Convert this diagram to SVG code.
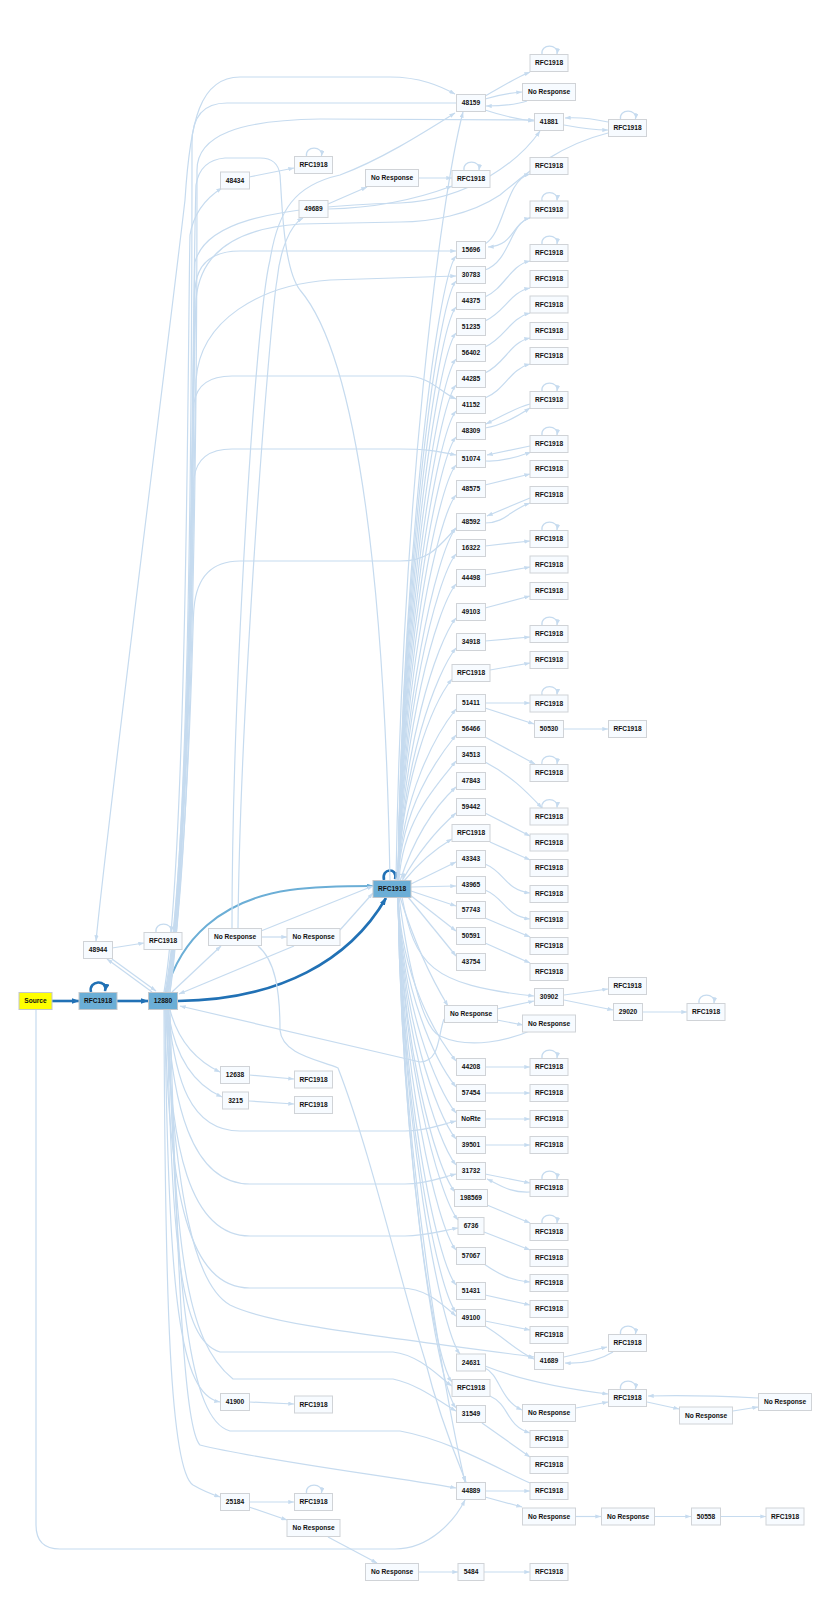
<svg xmlns="http://www.w3.org/2000/svg" width="830" height="1600" viewBox="0 0 830 1600">
<defs>
<marker id="a" viewBox="0 0 10 7" refX="9.5" refY="3.5" markerWidth="6" markerHeight="4.2" markerUnits="userSpaceOnUse" orient="auto"><path d="M0,0L10,3.5L0,7z" fill="#c6dbef"/></marker>
<marker id="as" viewBox="0 0 10 7" refX="9.5" refY="3.5" markerWidth="6" markerHeight="4.2" markerUnits="userSpaceOnUse" orient="auto-start-reverse"><path d="M0,0L10,3.5L0,7z" fill="#c6dbef"/></marker>
<marker id="d" viewBox="0 0 10 7" refX="9" refY="3.5" markerWidth="8" markerHeight="5.6" markerUnits="userSpaceOnUse" orient="auto"><path d="M0,0L10,3.5L0,7z" fill="#2171b5"/></marker>
<marker id="m" viewBox="0 0 10 7" refX="9" refY="3.5" markerWidth="7" markerHeight="4.9" markerUnits="userSpaceOnUse" orient="auto"><path d="M0,0L10,3.5L0,7z" fill="#6baed6"/></marker>
<style>
.e{fill:none;stroke:#c6dbef;stroke-width:1.2}
.a{marker-end:url(#a)}
.dk{fill:none;stroke:#2171b5;stroke-width:2.6;marker-end:url(#d)}
.md{fill:none;stroke:#6baed6;stroke-width:2;marker-end:url(#m)}
.n rect{fill:#f7fbff;stroke:#d0d3d7;stroke-width:1}
.b rect{fill:#6baed6;stroke:#c3c7cc;stroke-width:1}
.y rect{fill:#ffff00;stroke:#c3c7cc;stroke-width:1}
text{font-family:"Liberation Sans",Arial,sans-serif;font-size:6.6px;font-weight:bold;fill:#111;text-anchor:middle}
</style>
</defs>
<rect width="830" height="1600" fill="#ffffff"/>
<g id="edges">
<!-- main blue edges -->
<path class="dk" d="M52,1001 L79,1001"/>
<path class="dk" d="M117,1001 L148,1001"/>
<path class="dk" d="M178,1001 C280,1000 350,960 386,898"/>
<path class="md" d="M166,992 C180,940 220,900 290,890 C320,886 350,886 373,886"/>
<path class="dk" d="M91,992 C88,980 108,979 105,991"/>
<path class="dk" d="M384,880 C381,868 398,867 395,879"/>
<!-- upper bundle from 12880 -->
<path class="e a" style="marker-start:url(#as)" d="M96,941 C110,800 170,330 185,200 C190,120 200,77 240,77 L390,77 C420,77 440,86 455,94"/>
<path class="e" d="M166,992 C192,850 192,303 192,143 Q192,103 227,103 L457,103"/>
<path class="e a" d="M168,992 C197,850 197,280 197,170 C197,135 240,120 320,119 L534,120"/>
<path class="e" d="M390,880 C385,600 360,360 300,290 C283,268 282,200 280,175 Q278,158 260,158 L225,158 Q200,160 196,185 C192,300 192,850 170,992"/>
<path class="e a" d="M164,992 C188,850 188,300 190,235 Q195,205 222,188"/>
<path class="e a" d="M165,992 C192,850 194,330 195,290 Q197,251 240,251 L456,251"/>
<path class="e a" d="M166,992 C192,850 194,420 196,380 C200,320 260,285 330,280 L456,276"/>
<path class="e" d="M608,133 C560,145 530,170 500,195 C470,215 430,222 400,222 L300,224 C240,228 200,250 196,300 C192,400 192,850 167,992"/>
<path class="e a" d="M167,992 C193,850 193,300 195,262 C205,225 260,207 400,203 C470,200 520,160 540,131"/>
<path class="e a" d="M168,992 C193,800 193,420 194,403 Q198,376 232,376 L405,376 C430,376 440,392 456,399"/>
<path class="e a" d="M169,992 C193,800 193,480 194,478 Q198,449 232,449 L400,449 C430,449 440,452 456,455"/>
<path class="e a" d="M170,992 C192,800 192,620 194,608 Q198,561 240,561 L400,561 C430,561 440,545 456,528"/>
<!-- No Response (235,937) and neighbours -->
<path class="e a" d="M232,928 C232,700 255,320 270,260 C278,210 295,185 340,175 C380,160 420,135 455,113"/>
<path class="e a" d="M238,928 C240,700 270,320 277,280 C280,250 290,225 303,218"/>
<path class="e a" d="M261,937 L287,937"/>
<path class="e a" d="M261,931 L373,886"/>
<path class="e a" d="M340,930 L373,893"/>
<path class="e a" d="M258,946 C275,960 280,990 280,1030 C282,1055 320,1060 338,1068 C370,1150 400,1280 425,1360 C440,1420 458,1462 466,1482"/>
<path class="e a" d="M172,992 L221,946"/>
<path class="e a" d="M294,946 L179,994"/>
<path class="e a" d="M152,992 L107,959"/>
<path class="e a" d="M112,959 L156,991"/>
<path class="e a" d="M112,948 L144,943"/>
<!-- lower bundle from 12880 -->
<path class="e a" d="M170,1010 C178,1040 195,1060 220,1072"/>
<path class="e a" d="M168,1010 C175,1060 195,1085 222,1097"/>
<path class="e a" d="M168,1010 C175,1080 190,1131 240,1131 L405,1131 C425,1131 440,1125 456,1121"/>
<path class="e a" d="M167,1010 C172,1100 190,1184 250,1184 L405,1184 C425,1184 440,1178 456,1174"/>
<path class="e a" d="M166,1010 C170,1150 190,1236 250,1236 L405,1236 C425,1236 445,1230 458,1228"/>
<path class="e a" d="M165,1010 C168,1200 190,1288 250,1288 L400,1288 C425,1288 440,1302 456,1316"/>
<path class="e a" d="M444,1019 C438,1035 440,1062 420,1062 L180,1006"/>
<path class="e a" d="M166,1010 C175,1200 195,1285 230,1305 C270,1325 380,1336 534,1357"/>
<path class="e a" d="M167,1010 C172,1250 180,1340 220,1352 L393,1352 C420,1355 440,1378 452,1386"/>
<path class="e a" d="M168,1010 C175,1250 185,1340 233,1379 L393,1379 C420,1385 440,1402 456,1411"/>
<path class="e" d="M169,1010 C175,1300 190,1420 230,1431 L400,1431 C450,1440 500,1470 530,1483"/>
<path class="e a" d="M170,1010 C178,1300 185,1430 200,1445 C260,1460 380,1475 456,1488"/>
<path class="e a" d="M165,1010 C168,1300 180,1395 220,1402"/>
<path class="e a" d="M164,1010 C165,1300 170,1470 193,1485 Q205,1492 220,1497"/>
<path class="e a" d="M36,1010 L36,1525 Q36,1549 60,1549 L395,1549 C430,1549 455,1520 465,1500"/>
<!-- main RFC1918 fan upward -->
<path class="e a" d="M396,880 C402,500 440,200 463,112"/>
<path class="e a" d="M398,880 C402,568 436,281 456,256"/>
<path class="e a" d="M398,880 C402,580 436,306 456,281"/>
<path class="e a" d="M398,880 C402,593 436,332 456,307"/>
<path class="e a" d="M398,880 C402,606 436,358 456,333"/>
<path class="e a" d="M398,880 C402,619 436,384 456,359"/>
<path class="e a" d="M398,880 C402,632 436,410 456,385"/>
<path class="e a" d="M398,880 C402,645 436,436 456,411"/>
<path class="e a" d="M398,880 C402,658 436,462 456,437"/>
<path class="e a" d="M398,880 C402,672 436,490 456,465"/>
<path class="e a" d="M398,880 C402,687 436,520 456,495"/>
<path class="e a" d="M398,880 C402,704 436,553 456,528"/>
<path class="e a" d="M398,880 C402,717 436,579 456,554"/>
<path class="e a" d="M398,880 C402,732 436,609 456,584"/>
<path class="e a" d="M398,880 C402,749 436,643 456,618"/>
<path class="e a" d="M398,880 C402,764 436,673 456,648"/>
<path class="e a" d="M398,880 C402,779 432,704 452,679"/>
<path class="e a" d="M398,880 C402,794 436,734 456,709"/>
<path class="e a" d="M398,880 C402,807 436,760 456,735"/>
<path class="e a" d="M399,880 C403,820 436,786 456,761"/>
<path class="e a" d="M400,881 Q420,820 456,787"/>
<path class="e a" d="M402,881 Q425,840 456,813"/>
<path class="e a" d="M404,881 Q425,855 452,839"/>
<path class="e a" d="M411,884 L456,862"/>
<path class="e a" d="M411,887 L456,886"/>
<path class="e a" d="M411,891 L456,906"/>
<path class="e a" d="M410,895 L456,931"/>
<path class="e a" d="M408,897 L456,956"/>
<!-- main RFC1918 fan downward -->
<path class="e a" d="M400,897 Q420,960 448,1006"/>
<path class="e a" d="M402,897 C415,965 430,985 534,996"/>
<path class="e" d="M399,897 C410,980 425,1030 440,1036 C470,1050 510,1040 532,1030"/>
<path class="e a" d="M398,897 C402,979 436,1036 456,1061"/>
<path class="e a" d="M398,897 C402,992 436,1062 456,1087"/>
<path class="e a" d="M398,897 C402,1005 436,1088 456,1113"/>
<path class="e a" d="M398,897 C402,1018 436,1114 456,1139"/>
<path class="e a" d="M398,897 C402,1031 436,1140 456,1165"/>
<path class="e a" d="M398,897 C402,1044 435,1167 455,1192"/>
<path class="e a" d="M398,897 C402,1058 438,1195 458,1220"/>
<path class="e a" d="M398,897 C402,1073 436,1225 456,1250"/>
<path class="e a" d="M398,897 C402,1091 436,1260 456,1285"/>
<path class="e a" d="M398,897 C402,1104 436,1287 456,1312"/>
<path class="e a" d="M398,897 C402,1125 440,1329 460,1354"/>
<path class="e a" d="M398,897 C402,1139 432,1357 452,1382"/>
<path class="e a" d="M398,897 C402,1152 436,1383 456,1408"/>
<path class="e a" d="M398,897 C402,1189 455,1440 465,1482"/>
<!-- top area -->
<path class="e a" d="M485,96 C500,88 515,78 530,72"/>
<path class="e a" d="M485,99 C498,95 510,93 522,92"/>
<path class="e a" d="M527,101 C515,105 500,106 486,106"/>
<path class="e a" d="M485,110 C500,115 515,119 534,121"/>
<path class="e a" d="M564,125 C580,128 595,130 608,130"/>
<path class="e a" d="M608,122 C590,118 580,117 565,118"/>
<path class="e a" d="M328,204 L367,187"/>
<path class="e a" d="M328,209 C380,208 420,198 452,186"/>
<path class="e a" d="M418,178 L452,178"/>
<path class="e a" d="M249,177 L294,168"/>
<!-- column G to H -->
<path class="e a" d="M485,244 C505,232 505,180 530,174"/>
<path class="e a" d="M531,217 C510,225 515,245 488,247"/>
<path class="e a" d="M485,270 C510,262 510,222 530,218"/>
<path class="e a" d="M485,297 C505,288 510,265 530,261"/>
<path class="e a" d="M485,321 C505,312 510,292 530,288"/>
<path class="e a" d="M485,347 C505,338 510,318 530,313"/>
<path class="e a" d="M485,373 C505,364 510,342 530,338"/>
<path class="e a" d="M485,398 C505,390 510,369 530,364"/>
<path class="e a" d="M485,428 C500,426 515,418 530,408"/>
<path class="e a" d="M530,404 C515,408 500,417 486,424"/>
<path class="e a" d="M485,461 C500,462 515,458 531,452"/>
<path class="e a" d="M530,446 L487,455"/>
<path class="e a" d="M485,485 L530,474"/>
<path class="e a" d="M485,523 C505,523 510,510 530,503"/>
<path class="e a" d="M530,498 L487,516"/>
<path class="e a" d="M485,546 L530,541"/>
<path class="e a" d="M485,575 L530,567"/>
<path class="e a" d="M485,608 L530,596"/>
<path class="e a" d="M485,641 L530,637"/>
<path class="e a" d="M490,670 L530,663"/>
<path class="e a" d="M485,703 L530,703"/>
<path class="e a" d="M485,708 L534,724"/>
<path class="e a" d="M564,729 L608,729"/>
<path class="e a" d="M485,737 L535,764"/>
<path class="e a" d="M485,762 C510,775 525,790 542,808"/>
<path class="e a" d="M485,813 L530,836"/>
<path class="e a" d="M490,842 L530,860"/>
<path class="e a" d="M485,864 C505,872 505,890 530,893"/>
<path class="e a" d="M485,890 C505,898 505,916 530,919"/>
<path class="e a" d="M485,918 L530,937"/>
<path class="e a" d="M485,943 L530,963"/>
<path class="e a" d="M564,995 L608,989"/>
<path class="e a" d="M564,1000 L613,1010"/>
<path class="e a" d="M642,1012 L687,1012"/>
<path class="e a" d="M497,1009 L534,1001"/>
<path class="e a" d="M497,1020 L523,1025"/>
<path class="e a" d="M485,1067 L530,1067"/>
<path class="e a" d="M485,1093 L530,1093"/>
<path class="e a" d="M485,1119 L530,1119"/>
<path class="e a" d="M485,1145 L530,1145"/>
<path class="e a" d="M485,1174 L530,1183"/>
<path class="e a" d="M530,1192 C510,1193 500,1185 487,1179"/>
<path class="e a" d="M487,1205 L530,1223"/>
<path class="e a" d="M484,1232 L530,1250"/>
<path class="e a" d="M484,1264 C500,1275 510,1280 530,1282"/>
<path class="e a" d="M485,1295 L530,1305"/>
<path class="e a" d="M485,1321 L530,1330"/>
<path class="e a" d="M485,1326 C505,1338 515,1350 534,1359"/>
<path class="e a" d="M564,1357 L607,1347"/>
<path class="e a" d="M613,1352 C600,1360 585,1364 565,1363"/>
<path class="e a" d="M485,1366 C520,1380 560,1388 608,1394"/>
<path class="e a" d="M485,1368 C500,1375 500,1400 522,1410"/>
<path class="e a" d="M576,1408 L608,1402"/>
<path class="e a" d="M647,1402 L679,1409"/>
<path class="e a" d="M733,1411 L758,1407"/>
<path class="e a" d="M758,1398 C720,1396 680,1395 648,1396"/>
<path class="e a" d="M490,1396 C510,1405 505,1425 530,1433"/>
<path class="e a" d="M482,1423 L530,1457"/>
<path class="e a" d="M485,1491 L530,1491"/>
<path class="e a" d="M485,1497 L522,1507"/>
<path class="e a" d="M576,1516.5 L601,1516.5"/>
<path class="e a" d="M654,1516.5 L691,1516.5"/>
<path class="e a" d="M721,1516.5 L766,1516.5"/>
<path class="e a" d="M418,1572 L458,1572"/>
<path class="e a" d="M484,1572 L530,1572"/>
<path class="e a" d="M249,1502 L294,1502"/>
<path class="e a" d="M249,1507 L287,1520"/>
<path class="e a" d="M328,1537 L377,1563"/>
<path class="e a" d="M249,1402 L294,1404"/>
<path class="e a" d="M249,1075 L294,1079"/>
<path class="e a" d="M249,1101 L294,1104"/>
<!-- self loops -->
<path class="e a" d="M542,54.5 C540,43.5 559,43.5 557,54"/>
<path class="e a" d="M620.5,119.5 C618.5,108.5 637.5,108.5 635.5,119"/>
<path class="e a" d="M306.5,156.5 C304.5,145.5 323.5,145.5 321.5,156"/>
<path class="e a" d="M464,170.5 C462,159.5 481,159.5 479,170"/>
<path class="e a" d="M542,201 C540,190 559,190 557,200.5"/>
<path class="e a" d="M542,244.5 C540,233.5 559,233.5 557,244"/>
<path class="e a" d="M542,391.5 C540,380.5 559,380.5 557,391"/>
<path class="e a" d="M542,435.5 C540,424.5 559,424.5 557,435"/>
<path class="e a" d="M542,530.5 C540,519.5 559,519.5 557,530"/>
<path class="e a" d="M542,625.5 C540,614.5 559,614.5 557,625"/>
<path class="e a" d="M542,695 C540,684 559,684 557,694.5"/>
<path class="e a" d="M542,764.5 C540,753.5 559,753.5 557,764"/>
<path class="e a" d="M542,808 C540,797 559,797 557,807.5"/>
<path class="e a" d="M156,932.5 C154,921.5 173,921.5 171,932"/>
<path class="e a" d="M699,1003.5 C697,992.5 716,992.5 714,1003"/>
<path class="e a" d="M542,1058.5 C540,1047.5 559,1047.5 557,1058"/>
<path class="e a" d="M542,1179.5 C540,1168.5 559,1168.5 557,1179"/>
<path class="e a" d="M542,1223.5 C540,1212.5 559,1212.5 557,1223"/>
<path class="e a" d="M620.5,1334.5 C618.5,1323.5 637.5,1323.5 635.5,1334"/>
<path class="e a" d="M620.5,1389.5 C618.5,1378.5 637.5,1378.5 635.5,1389"/>
<path class="e a" d="M306.5,1493.5 C304.5,1482.5 323.5,1482.5 321.5,1493"/>
<path class="e a" d="M397,880.5 C398,873 404,872 403,879"/>
</g>
<g id="nodes">
<g id="n-source" class="y"><rect x="19" y="992.5" width="33" height="17"/><text x="35.5" y="1003.4">Source</text></g>
<g id="n-rfc-98" class="b"><rect x="79" y="992.5" width="38" height="17"/><text x="98" y="1003.4">RFC1918</text></g>
<g id="n-12880" class="b"><rect x="148.5" y="992.5" width="29" height="17"/><text x="163" y="1003.4">12880</text></g>
<g id="n-48944" class="n"><rect x="83.5" y="941.5" width="29" height="17"/><text x="98" y="952.4">48944</text></g>
<g id="n-rfc-163-941" class="n"><rect x="144" y="932.5" width="38" height="17"/><text x="163" y="943.4">RFC1918</text></g>
<g id="n-48434" class="n"><rect x="220.5" y="172" width="29" height="17"/><text x="235" y="182.9">48434</text></g>
<g id="n-nr-235-937" class="n"><rect x="208.5" y="928.5" width="53" height="17"/><text x="235" y="939.4">No Response</text></g>
<g id="n-12638" class="n"><rect x="220.5" y="1066.5" width="29" height="17"/><text x="235" y="1077.4">12638</text></g>
<g id="n-3215" class="n"><rect x="222.5" y="1092" width="26" height="17"/><text x="235.5" y="1102.9">3215</text></g>
<g id="n-41900" class="n"><rect x="220.5" y="1393.5" width="29" height="17"/><text x="235" y="1404.4">41900</text></g>
<g id="n-25184" class="n"><rect x="220.5" y="1493.5" width="29" height="17"/><text x="235" y="1504.4">25184</text></g>
<g id="n-rfc-313-165" class="n"><rect x="294.5" y="156.5" width="38" height="17"/><text x="313.5" y="167.4">RFC1918</text></g>
<g id="n-49689" class="n"><rect x="299" y="200.5" width="29" height="17"/><text x="313.5" y="211.4">49689</text></g>
<g id="n-nr-313-937" class="n"><rect x="287" y="928.5" width="53" height="17"/><text x="313.5" y="939.4">No Response</text></g>
<g id="n-rfc-313-1079" class="n"><rect x="294.5" y="1071" width="38" height="17"/><text x="313.5" y="1081.9">RFC1918</text></g>
<g id="n-rfc-313-1105" class="n"><rect x="294.5" y="1096.5" width="38" height="17"/><text x="313.5" y="1107.4">RFC1918</text></g>
<g id="n-rfc-313-1404" class="n"><rect x="294.5" y="1396" width="38" height="17"/><text x="313.5" y="1406.9">RFC1918</text></g>
<g id="n-rfc-313-1502" class="n"><rect x="294.5" y="1493.5" width="38" height="17"/><text x="313.5" y="1504.4">RFC1918</text></g>
<g id="n-nr-313-1528" class="n"><rect x="287" y="1519.5" width="53" height="17"/><text x="313.5" y="1530.4">No Response</text></g>
<g id="n-nr-392-178" class="n"><rect x="365.5" y="169.5" width="53" height="17"/><text x="392" y="180.4">No Response</text></g>
<g id="n-main" class="b"><rect x="373" y="880.5" width="38" height="17"/><text x="392" y="891.4">RFC1918</text></g>
<g id="n-nr-392-1572" class="n"><rect x="365.5" y="1563.5" width="53" height="17"/><text x="392" y="1574.4">No Response</text></g>
<g id="n-48159" class="n"><rect x="456.5" y="94.5" width="29" height="17"/><text x="471" y="105.4">48159</text></g>
<g id="n-rfc-471-179" class="n"><rect x="452" y="170.5" width="38" height="17"/><text x="471" y="181.4">RFC1918</text></g>
<g id="n-15696" class="n"><rect x="456.5" y="241.5" width="29" height="17"/><text x="471" y="252.4">15696</text></g>
<g id="n-30783" class="n"><rect x="456.5" y="266.5" width="29" height="17"/><text x="471" y="277.4">30783</text></g>
<g id="n-44375" class="n"><rect x="456.5" y="292.5" width="29" height="17"/><text x="471" y="303.4">44375</text></g>
<g id="n-51235" class="n"><rect x="456.5" y="318.5" width="29" height="17"/><text x="471" y="329.4">51235</text></g>
<g id="n-56402" class="n"><rect x="456.5" y="344.5" width="29" height="17"/><text x="471" y="355.4">56402</text></g>
<g id="n-44285" class="n"><rect x="456.5" y="370.5" width="29" height="17"/><text x="471" y="381.4">44285</text></g>
<g id="n-41152" class="n"><rect x="456.5" y="396.5" width="29" height="17"/><text x="471" y="407.4">41152</text></g>
<g id="n-48309" class="n"><rect x="456.5" y="422.5" width="29" height="17"/><text x="471" y="433.4">48309</text></g>
<g id="n-51074" class="n"><rect x="456.5" y="450.5" width="29" height="17"/><text x="471" y="461.4">51074</text></g>
<g id="n-48575" class="n"><rect x="456.5" y="480.5" width="29" height="17"/><text x="471" y="491.4">48575</text></g>
<g id="n-48592" class="n"><rect x="456.5" y="513.5" width="29" height="17"/><text x="471" y="524.4">48592</text></g>
<g id="n-16322" class="n"><rect x="456.5" y="539.5" width="29" height="17"/><text x="471" y="550.4">16322</text></g>
<g id="n-44498" class="n"><rect x="456.5" y="569.5" width="29" height="17"/><text x="471" y="580.4">44498</text></g>
<g id="n-49103" class="n"><rect x="456.5" y="603.5" width="29" height="17"/><text x="471" y="614.4">49103</text></g>
<g id="n-34918" class="n"><rect x="456.5" y="633.5" width="29" height="17"/><text x="471" y="644.4">34918</text></g>
<g id="n-rfc-471-673" class="n"><rect x="452" y="664.5" width="38" height="17"/><text x="471" y="675.4">RFC1918</text></g>
<g id="n-51411" class="n"><rect x="456.5" y="694.5" width="29" height="17"/><text x="471" y="705.4">51411</text></g>
<g id="n-56466" class="n"><rect x="456.5" y="720.5" width="29" height="17"/><text x="471" y="731.4">56466</text></g>
<g id="n-34513" class="n"><rect x="456.5" y="746.5" width="29" height="17"/><text x="471" y="757.4">34513</text></g>
<g id="n-47843" class="n"><rect x="456.5" y="772.5" width="29" height="17"/><text x="471" y="783.4">47843</text></g>
<g id="n-59442" class="n"><rect x="456.5" y="798.5" width="29" height="17"/><text x="471" y="809.4">59442</text></g>
<g id="n-rfc-471-833" class="n"><rect x="452" y="824.5" width="38" height="17"/><text x="471" y="835.4">RFC1918</text></g>
<g id="n-43343" class="n"><rect x="456.5" y="850.5" width="29" height="17"/><text x="471" y="861.4">43343</text></g>
<g id="n-43965" class="n"><rect x="456.5" y="876.5" width="29" height="17"/><text x="471" y="887.4">43965</text></g>
<g id="n-57743" class="n"><rect x="456.5" y="901.5" width="29" height="17"/><text x="471" y="912.4">57743</text></g>
<g id="n-50591" class="n"><rect x="456.5" y="927.5" width="29" height="17"/><text x="471" y="938.4">50591</text></g>
<g id="n-43754" class="n"><rect x="456.5" y="953.5" width="29" height="17"/><text x="471" y="964.4">43754</text></g>
<g id="n-nr-471-1014" class="n"><rect x="444.5" y="1005.5" width="53" height="17"/><text x="471" y="1016.4">No Response</text></g>
<g id="n-44208" class="n"><rect x="456.5" y="1058.5" width="29" height="17"/><text x="471" y="1069.4">44208</text></g>
<g id="n-57454" class="n"><rect x="456.5" y="1084.5" width="29" height="17"/><text x="471" y="1095.4">57454</text></g>
<g id="n-norte" class="n"><rect x="456.5" y="1110.5" width="29" height="17"/><text x="471" y="1121.4">NoRte</text></g>
<g id="n-39501" class="n"><rect x="456.5" y="1136.5" width="29" height="17"/><text x="471" y="1147.4">39501</text></g>
<g id="n-31732" class="n"><rect x="456.5" y="1162.5" width="29" height="17"/><text x="471" y="1173.4">31732</text></g>
<g id="n-198569" class="n"><rect x="454.5" y="1189.5" width="33" height="17"/><text x="471" y="1200.4">198569</text></g>
<g id="n-6736" class="n"><rect x="458" y="1217.5" width="26" height="17"/><text x="471" y="1228.4">6736</text></g>
<g id="n-57067" class="n"><rect x="456.5" y="1247.5" width="29" height="17"/><text x="471" y="1258.4">57067</text></g>
<g id="n-51431" class="n"><rect x="456.5" y="1282.5" width="29" height="17"/><text x="471" y="1293.4">51431</text></g>
<g id="n-49100" class="n"><rect x="456.5" y="1309.5" width="29" height="17"/><text x="471" y="1320.4">49100</text></g>
<g id="n-24631" class="n"><rect x="456.5" y="1354" width="29" height="17"/><text x="471" y="1364.9">24631</text></g>
<g id="n-rfc-471-1388" class="n"><rect x="452" y="1379.5" width="38" height="17"/><text x="471" y="1390.4">RFC1918</text></g>
<g id="n-31549" class="n"><rect x="456.5" y="1405.5" width="29" height="17"/><text x="471" y="1416.4">31549</text></g>
<g id="n-44889" class="n"><rect x="456.5" y="1482.5" width="29" height="17"/><text x="471" y="1493.4">44889</text></g>
<g id="n-5484" class="n"><rect x="458" y="1563.5" width="26" height="17"/><text x="471" y="1574.4">5484</text></g>
<g id="n-rfc-549-63" class="n"><rect x="530" y="54.5" width="38" height="17"/><text x="549" y="65.4">RFC1918</text></g>
<g id="n-nr-549-92" class="n"><rect x="522.5" y="83.5" width="53" height="17"/><text x="549" y="94.4">No Response</text></g>
<g id="n-41881" class="n"><rect x="534.5" y="113.5" width="29" height="17"/><text x="549" y="124.4">41881</text></g>
<g id="n-rfc-549-166" class="n"><rect x="530" y="157.5" width="38" height="17"/><text x="549" y="168.4">RFC1918</text></g>
<g id="n-rfc-549-209" class="n"><rect x="530" y="201" width="38" height="17"/><text x="549" y="211.9">RFC1918</text></g>
<g id="n-rfc-549-253" class="n"><rect x="530" y="244.5" width="38" height="17"/><text x="549" y="255.4">RFC1918</text></g>
<g id="n-rfc-549-279" class="n"><rect x="530" y="270.5" width="38" height="17"/><text x="549" y="281.4">RFC1918</text></g>
<g id="n-rfc-549-304" class="n"><rect x="530" y="296" width="38" height="17"/><text x="549" y="306.9">RFC1918</text></g>
<g id="n-rfc-549-331" class="n"><rect x="530" y="322.5" width="38" height="17"/><text x="549" y="333.4">RFC1918</text></g>
<g id="n-rfc-549-356" class="n"><rect x="530" y="347.5" width="38" height="17"/><text x="549" y="358.4">RFC1918</text></g>
<g id="n-rfc-549-400" class="n"><rect x="530" y="391.5" width="38" height="17"/><text x="549" y="402.4">RFC1918</text></g>
<g id="n-rfc-549-444" class="n"><rect x="530" y="435.5" width="38" height="17"/><text x="549" y="446.4">RFC1918</text></g>
<g id="n-rfc-549-469" class="n"><rect x="530" y="460.5" width="38" height="17"/><text x="549" y="471.4">RFC1918</text></g>
<g id="n-rfc-549-495" class="n"><rect x="530" y="486.5" width="38" height="17"/><text x="549" y="497.4">RFC1918</text></g>
<g id="n-rfc-549-539" class="n"><rect x="530" y="530.5" width="38" height="17"/><text x="549" y="541.4">RFC1918</text></g>
<g id="n-rfc-549-564" class="n"><rect x="530" y="556" width="38" height="17"/><text x="549" y="566.9">RFC1918</text></g>
<g id="n-rfc-549-591" class="n"><rect x="530" y="582.5" width="38" height="17"/><text x="549" y="593.4">RFC1918</text></g>
<g id="n-rfc-549-634" class="n"><rect x="530" y="625.5" width="38" height="17"/><text x="549" y="636.4">RFC1918</text></g>
<g id="n-rfc-549-660" class="n"><rect x="530" y="651.5" width="38" height="17"/><text x="549" y="662.4">RFC1918</text></g>
<g id="n-rfc-549-703" class="n"><rect x="530" y="695" width="38" height="17"/><text x="549" y="705.9">RFC1918</text></g>
<g id="n-50530" class="n"><rect x="534.5" y="720.5" width="29" height="17"/><text x="549" y="731.4">50530</text></g>
<g id="n-rfc-549-773" class="n"><rect x="530" y="764.5" width="38" height="17"/><text x="549" y="775.4">RFC1918</text></g>
<g id="n-rfc-549-816" class="n"><rect x="530" y="808" width="38" height="17"/><text x="549" y="818.9">RFC1918</text></g>
<g id="n-rfc-549-842" class="n"><rect x="530" y="834" width="38" height="17"/><text x="549" y="844.9">RFC1918</text></g>
<g id="n-rfc-549-868" class="n"><rect x="530" y="859.5" width="38" height="17"/><text x="549" y="870.4">RFC1918</text></g>
<g id="n-rfc-549-894" class="n"><rect x="530" y="885.5" width="38" height="17"/><text x="549" y="896.4">RFC1918</text></g>
<g id="n-rfc-549-920" class="n"><rect x="530" y="911.5" width="38" height="17"/><text x="549" y="922.4">RFC1918</text></g>
<g id="n-rfc-549-946" class="n"><rect x="530" y="937.5" width="38" height="17"/><text x="549" y="948.4">RFC1918</text></g>
<g id="n-rfc-549-972" class="n"><rect x="530" y="963.5" width="38" height="17"/><text x="549" y="974.4">RFC1918</text></g>
<g id="n-30902" class="n"><rect x="534.5" y="988.5" width="29" height="17"/><text x="549" y="999.4">30902</text></g>
<g id="n-nr-549-1023" class="n"><rect x="522.5" y="1015" width="53" height="17"/><text x="549" y="1025.9">No Response</text></g>
<g id="n-rfc-549-1067" class="n"><rect x="530" y="1058.5" width="38" height="17"/><text x="549" y="1069.4">RFC1918</text></g>
<g id="n-rfc-549-1093" class="n"><rect x="530" y="1084.5" width="38" height="17"/><text x="549" y="1095.4">RFC1918</text></g>
<g id="n-rfc-549-1119" class="n"><rect x="530" y="1110.5" width="38" height="17"/><text x="549" y="1121.4">RFC1918</text></g>
<g id="n-rfc-549-1145" class="n"><rect x="530" y="1136.5" width="38" height="17"/><text x="549" y="1147.4">RFC1918</text></g>
<g id="n-rfc-549-1188" class="n"><rect x="530" y="1179.5" width="38" height="17"/><text x="549" y="1190.4">RFC1918</text></g>
<g id="n-rfc-549-1232" class="n"><rect x="530" y="1223.5" width="38" height="17"/><text x="549" y="1234.4">RFC1918</text></g>
<g id="n-rfc-549-1258" class="n"><rect x="530" y="1249.5" width="38" height="17"/><text x="549" y="1260.4">RFC1918</text></g>
<g id="n-rfc-549-1283" class="n"><rect x="530" y="1274.5" width="38" height="17"/><text x="549" y="1285.4">RFC1918</text></g>
<g id="n-rfc-549-1309" class="n"><rect x="530" y="1300.5" width="38" height="17"/><text x="549" y="1311.4">RFC1918</text></g>
<g id="n-rfc-549-1335" class="n"><rect x="530" y="1326.5" width="38" height="17"/><text x="549" y="1337.4">RFC1918</text></g>
<g id="n-41689" class="n"><rect x="534.5" y="1352.5" width="29" height="17"/><text x="549" y="1363.4">41689</text></g>
<g id="n-nr-549-1413" class="n"><rect x="522.5" y="1404.5" width="53" height="17"/><text x="549" y="1415.4">No Response</text></g>
<g id="n-rfc-549-1439" class="n"><rect x="530" y="1430.5" width="38" height="17"/><text x="549" y="1441.4">RFC1918</text></g>
<g id="n-rfc-549-1465" class="n"><rect x="530" y="1456.5" width="38" height="17"/><text x="549" y="1467.4">RFC1918</text></g>
<g id="n-rfc-549-1491" class="n"><rect x="530" y="1482.5" width="38" height="17"/><text x="549" y="1493.4">RFC1918</text></g>
<g id="n-nr-549-1516" class="n"><rect x="522.5" y="1508" width="53" height="17"/><text x="549" y="1518.9">No Response</text></g>
<g id="n-rfc-549-1572" class="n"><rect x="530" y="1563.5" width="38" height="17"/><text x="549" y="1574.4">RFC1918</text></g>
<g id="n-rfc-627-128" class="n"><rect x="608.5" y="119.5" width="38" height="17"/><text x="627.5" y="130.4">RFC1918</text></g>
<g id="n-rfc-627-729" class="n"><rect x="608.5" y="720.5" width="38" height="17"/><text x="627.5" y="731.4">RFC1918</text></g>
<g id="n-rfc-627-986" class="n"><rect x="608.5" y="977.5" width="38" height="17"/><text x="627.5" y="988.4">RFC1918</text></g>
<g id="n-29020" class="n"><rect x="613.5" y="1003.5" width="29" height="17"/><text x="628" y="1014.4">29020</text></g>
<g id="n-rfc-627-1343" class="n"><rect x="608.5" y="1334.5" width="38" height="17"/><text x="627.5" y="1345.4">RFC1918</text></g>
<g id="n-rfc-627-1398" class="n"><rect x="608.5" y="1389.5" width="38" height="17"/><text x="627.5" y="1400.4">RFC1918</text></g>
<g id="n-nr-628-1516" class="n"><rect x="601.5" y="1508" width="53" height="17"/><text x="628" y="1518.9">No Response</text></g>
<g id="n-rfc-706-1012" class="n"><rect x="687" y="1003.5" width="38" height="17"/><text x="706" y="1014.4">RFC1918</text></g>
<g id="n-nr-706-1415" class="n"><rect x="679.5" y="1407" width="53" height="17"/><text x="706" y="1417.9">No Response</text></g>
<g id="n-50558" class="n"><rect x="691.5" y="1508" width="29" height="17"/><text x="706" y="1518.9">50558</text></g>
<g id="n-nr-785-1402" class="n"><rect x="758.5" y="1393.5" width="53" height="17"/><text x="785" y="1404.4">No Response</text></g>
<g id="n-rfc-785-1516" class="n"><rect x="766" y="1508" width="38" height="17"/><text x="785" y="1518.9">RFC1918</text></g>
</g>
</svg>
